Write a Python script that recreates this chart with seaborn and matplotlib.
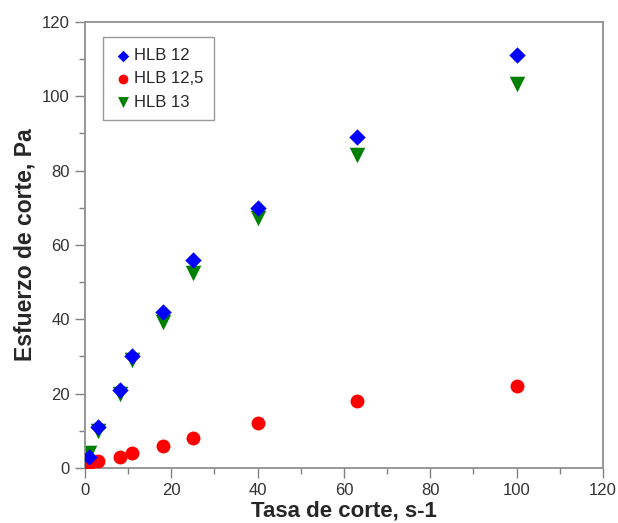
import numpy as np
import pandas as pd
import matplotlib
matplotlib.use("Agg")
import matplotlib.pyplot as plt
import seaborn as sns

# Shear rate (s-1) and shear stress (Pa)
tasa = [1, 3, 8, 11, 18, 25, 40, 63, 100]
hlb_12 = [3, 11, 21, 30, 42, 56, 70, 89, 111]
hlb_12_5 = [1, 2, 3, 4, 6, 8, 12, 18, 22]
hlb_13 = [4, 10, 20, 29, 39.4, 52.4, 67.2, 84.2, 103.3]

series = ["HLB 12", "HLB 12,5", "HLB 13"]
colores = ["#0000FF", "#FF0000", "#008000"]
marcadores = ["D", "o", "v"]
tamanos = [70, 100, 125]
orden_z = [4, 3, 2]

df = pd.DataFrame({"tasa": tasa * 3,
                   "esfuerzo": hlb_12 + hlb_12_5 + hlb_13,
                   "serie": np.repeat(series, len(tasa))})

sns.set_style("white")
plt.rcParams["font.family"] = ["Liberation Sans", "DejaVu Sans"]

fig = plt.figure(figsize=(6.18, 5.23), dpi=100)
ax = fig.add_axes([0.1375, 0.1052, 0.8382, 0.8528])

for nombre, c, m, s, z in zip(series, colores, marcadores, tamanos, orden_z):
    sns.scatterplot(data=df[df["serie"] == nombre], x="tasa", y="esfuerzo",
                    color=c, marker=m, s=s, linewidth=0, label=nombre,
                    zorder=z, ax=ax)

ax.set_xlim(0, 120)
ax.set_ylim(0, 120)
ax.set_xticks(range(0, 121, 20))
ax.set_yticks(range(0, 121, 20))
ax.set_xticks(range(0, 121, 10), minor=True)
ax.set_yticks(range(0, 121, 10), minor=True)
ax.tick_params(which="major", direction="out", length=7, width=1, color="#808080",
               labelsize=12, labelcolor="#333333", bottom=True, left=True, pad=4)
ax.tick_params(which="minor", direction="out", length=4, width=1, color="#808080",
               bottom=True, left=True)
for sp in ax.spines.values():
    sp.set_color("#909090")
    sp.set_linewidth(1.3)

ax.set_xlabel("Tasa de corte, s-1", fontsize=16, fontweight="bold", labelpad=1.5)
ax.set_ylabel("Esfuerzo de corte, Pa", fontsize=16.5, fontweight="bold", labelpad=4)

leg = ax.legend(loc="upper left", bbox_to_anchor=(0.035, 0.966), borderaxespad=0,
                fontsize=12, frameon=True, fancybox=False, handletextpad=0.1,
                handlelength=1.1, borderpad=0.65, labelspacing=0.5, markerscale=0.7)
leg.get_frame().set_edgecolor("#808080")
leg.get_frame().set_linewidth(1.0)

fig.savefig("out.png", dpi=100)
